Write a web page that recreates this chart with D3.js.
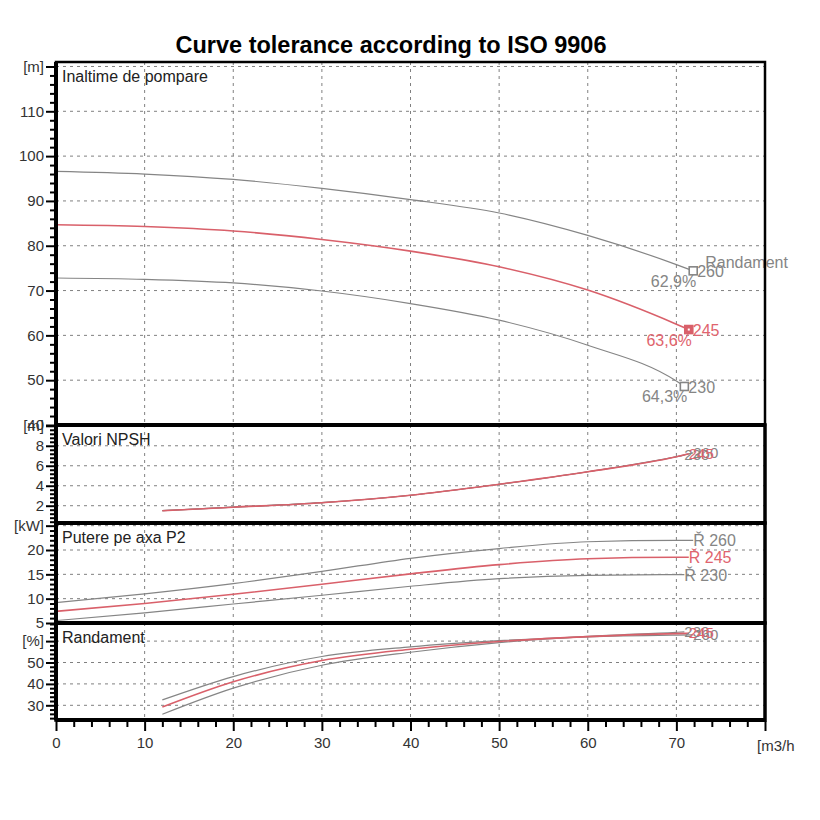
<!DOCTYPE html>
<html>
<head>
<meta charset="utf-8">
<script src="https://cdn.jsdelivr.net/npm/d3@7"></script>
<style>
  body { margin: 0; background: #fff; }
  text { font-family: "Liberation Sans", Arial, sans-serif; }
</style>
</head>
<body>
<svg id="chart" width="820" height="820"></svg>
<script>
// flow points (m3/h) for each impeller diameter
const qFull260 = [0, 10, 20, 30, 40, 50, 60, 70, 71.9];
const qFull245 = [0, 10, 20, 30, 40, 50, 60, 70, 71.4];
const qFull230 = [0, 10, 20, 30, 40, 50, 60, 70, 70.9];
const qPart260 = [12, 20, 30, 40, 50, 60, 70, 71.9];
const qPart245 = [12, 20, 30, 40, 50, 60, 70, 71.4];
const qPart230 = [12, 20, 30, 40, 50, 60, 70, 70.9];

// head [m]
const head260 = [96.6, 96.0, 94.8, 92.8, 90.3, 87.3, 82.3, 75.8, 74.4];
const head245 = [84.7, 84.3, 83.3, 81.4, 78.8, 75.3, 70.1, 62.5, 61.3];
const head230 = [72.8, 72.5, 71.7, 69.9, 67.1, 63.4, 57.8, 49.8, 48.6];

// NPSH [m]
const npsh260 = [1.5, 1.85, 2.3, 3.05, 4.15, 5.4, 6.9, 7.3];
const npsh245 = [1.5, 1.85, 2.3, 3.05, 4.15, 5.4, 6.9, 7.2];
const npsh230 = [1.5, 1.85, 2.3, 3.05, 4.15, 5.4, 6.9, 7.05];

// shaft power P2 [kW]
const power260 = [9.2, 11.0, 13.1, 15.6, 18.3, 20.3, 21.7, 22.0, 22.0];
const power245 = [7.4, 9.0, 10.9, 12.95, 15.1, 17.0, 18.2, 18.5, 18.5];
const power230 = [5.5, 7.1, 8.9, 10.7, 12.55, 14.1, 14.8, 14.95, 14.95];

// efficiency [%]
const eff260 = [32.5, 43.4, 52.8, 57.3, 60.2, 62.0, 62.8, 62.9];
const eff245 = [29.2, 41.0, 50.9, 56.2, 59.8, 62.1, 63.5, 63.6];
const eff230 = [25.8, 38.0, 48.7, 54.8, 59.3, 62.2, 64.1, 64.3];

const dutyLabels = ['62,9%', '63,6%', '64,3%'];
const impellers = ['260', '245', '230'];

// axis ticks / extents
const xTicks = [0, 10, 20, 30, 40, 50, 60, 70, 80];
const headTicks = [40, 50, 60, 70, 80, 90, 100, 110, 120];
const npshTicks = [2, 4, 6, 8, 10];
const powerTicks = [5, 10, 15, 20, 25];
const effTicks = [30, 40, 50, 60];
const headDomain = [40, 121];
const npshDomain = [0.27, 10.08];
const powerDomain = [5, 25.55];
const effDomain = [23.13, 68.46];

const panelTitles = ['Inaltime de pompare', 'Valori NPSH', 'Putere pe axa P2', 'Randament'];
const panelUnits = ['[m]', '[m]', '[kW]', '[%]'];

const GREY = '#858585', RED = '#d9606a', RED_TXT = '#e0646e';

const series = [
    {name: impellers[0], color: GREY, txt: GREY, qf: qFull260, qp: qPart260,
        head: head260, npsh: npsh260, power: power260, eff: eff260, duty: dutyLabels[0]},
    {name: impellers[2], color: GREY, txt: GREY, qf: qFull230, qp: qPart230,
        head: head230, npsh: npsh230, power: power230, eff: eff230, duty: dutyLabels[2]},
    {name: impellers[1], color: RED, txt: RED_TXT, qf: qFull245, qp: qPart245,
        head: head245, npsh: npsh245, power: power245, eff: eff245, duty: dutyLabels[1]}
];

const svg = d3.select('#chart');
const left = 56, right = 765;
const edges = [62, 425, 523, 623, 720];

let x = d3.scaleLinear().domain([0, 80]).range([left, right]);

const panels = [
    {domain: headDomain, ticks: headTicks, minor: 2, key: 'head', q: 'qf'},
    {domain: npshDomain, ticks: npshTicks, minor: 0.4, key: 'npsh', q: 'qp'},
    {domain: powerDomain, ticks: powerTicks, minor: 1, key: 'power', q: 'qf'},
    {domain: effDomain, ticks: effTicks, minor: 2, key: 'eff', q: 'qp'}
];

// title
svg.append('text')
    .attr('x', 391).attr('y', 53)
    .attr('text-anchor', 'middle')
    .style('font-size', '23.5px').style('font-weight', 'bold')
    .text('Curve tolerance according to ISO 9906');

panels.forEach(function (p, i) {
    let top = edges[i], bottom = edges[i + 1];
    let y = d3.scaleLinear().domain(p.domain).range([bottom, top]);
    p.y = y;
    let g = svg.append('g');

    // grid
    let grid = g.append('g')
        .attr('stroke', '#808080').attr('stroke-width', 1)
        .attr('stroke-dasharray', '3,4');
    xTicks.filter(t => t > 0 && t < 80).forEach(function (t) {
        grid.append('line')
            .attr('x1', x(t)).attr('x2', x(t))
            .attr('y1', top).attr('y2', bottom);
    });
    p.ticks.filter(t => y(t) > top + 1 && y(t) < bottom - 1).forEach(function (t) {
        grid.append('line')
            .attr('x1', left).attr('x2', right)
            .attr('y1', y(t)).attr('y2', y(t));
    });

    // curves
    let line = d3.line()
        .x(d => x(d[0]))
        .y(d => y(d[1]))
        .curve(d3.curveMonotoneX);
    series.forEach(function (s) {
        let pts = d3.zip(s[p.q], s[p.key]);
        g.append('path')
            .attr('d', line(pts))
            .attr('fill', 'none')
            .attr('stroke', s.color)
            .attr('stroke-width', s.color === RED ? 1.6 : 1.2);
    });

    // panel title
    g.append('text')
        .attr('x', left + 6).attr('y', top + 19.5)
        .style('font-size', '16px').attr('fill', '#222')
        .text(panelTitles[i]);

    // y axis major + minor ticks
    let topTick = p.ticks[p.ticks.length - 1];
    let yAxis = d3.axisLeft(y)
        .tickValues(p.ticks)
        .tickSize(10).tickPadding(2)
        .tickFormat(d => d === topTick ? panelUnits[i] : d);
    let ag = g.append('g').attr('transform', 'translate(' + left + ',0)').call(yAxis);
    let minors = d3.range(p.domain[0], p.domain[1], p.minor)
        .map(v => Math.round(v / p.minor) * p.minor)
        .filter(v => v >= p.domain[0] && v <= p.domain[1] && !p.ticks.includes(+v.toFixed(2)));
    let mg = g.append('g').attr('transform', 'translate(' + left + ',0)')
        .call(d3.axisLeft(y).tickValues(minors).tickSize(6).tickFormat(''));
    [ag, mg].forEach(function (a) {
        a.select('.domain').remove();
        a.selectAll('line').attr('stroke', '#000').attr('stroke-width', 2);
    });
    ag.selectAll('text')
        .style('font-size', '15px').attr('fill', '#333')
        .style('font-family', '"Liberation Sans", Arial, sans-serif');
});

// end labels per panel
series.forEach(function (s) {
    let n = s.qf.length - 1;
    let mx = x(s.qf[n]);

    // head: duty marker + labels
    let hy = panels[0].y(s.head[n]);
    svg.append('rect')
        .attr('x', mx - 4).attr('y', hy - 4)
        .attr('width', 8).attr('height', 8)
        .attr('fill', s.color === RED ? RED : '#fff')
        .attr('stroke', s.color).attr('stroke-width', 1.6);
    if (s.color === RED) {
        svg.append('rect')
            .attr('x', mx - 1).attr('y', hy - 1)
            .attr('width', 2).attr('height', 2).attr('fill', '#fff');
    }
    svg.append('text')
        .attr('x', mx + 4).attr('y', hy + 6.5)
        .style('font-size', '16px').attr('fill', s.txt)
        .text(s.name);
    svg.append('text')
        .attr('x', mx + 3).attr('y', hy + 16)
        .attr('text-anchor', 'end')
        .style('font-size', '16px').attr('fill', s.txt)
        .text(s.duty);
    if (s.name === impellers[0]) {
        svg.append('text')
            .attr('x', mx + 12).attr('y', hy - 2.5)
            .style('font-size', '16px').attr('fill', s.txt)
            .text('Randament');
    }

    // NPSH
    let np = s.qp.length - 1;
    svg.append('text')
        .attr('x', x(s.qp[np])).attr('y', panels[1].y(s.npsh[np]) + 5)
        .style('font-size', '15px').attr('fill', s.txt)
        .text(s.name);

    // power
    svg.append('text')
        .attr('x', mx).attr('y', panels[2].y(s.power[n]) + 6)
        .style('font-size', '16px').attr('fill', s.txt)
        .text('Ř ' + s.name);

    // efficiency
    svg.append('text')
        .attr('x', x(s.qp[np])).attr('y', panels[3].y(s.eff[np]) + 5)
        .style('font-size', '15px').attr('fill', s.txt)
        .text(s.name);
});

// panel borders and separators
edges.slice(0, 4).forEach(function (t, i) {
    svg.append('rect')
        .attr('x', left).attr('y', t)
        .attr('width', right - left).attr('height', edges[i + 1] - t)
        .attr('fill', 'none')
        .attr('stroke', '#000')
        .attr('stroke-width', i === 0 ? 2.5 : 3.5);
});
svg.append('line')
    .attr('x1', left).attr('x2', left)
    .attr('y1', edges[0]).attr('y2', edges[4])
    .attr('stroke', '#000').attr('stroke-width', 4);
[edges[1], edges[2], edges[3], edges[4]].forEach(function (t) {
    svg.append('line')
        .attr('x1', left).attr('x2', right)
        .attr('y1', t).attr('y2', t)
        .attr('stroke', '#000').attr('stroke-width', 4);
});

// x axis
let xg = svg.append('g').attr('transform', 'translate(0,' + (edges[4] + 1) + ')')
    .call(d3.axisBottom(x).tickValues(xTicks).tickSize(10).tickPadding(6)
        .tickFormat(d => d < 80 ? d : ''));
let xmg = svg.append('g').attr('transform', 'translate(0,' + (edges[4] + 1) + ')')
    .call(d3.axisBottom(x).tickValues(d3.range(0, 80, 2).filter(v => v % 10 !== 0))
        .tickSize(6).tickFormat(''));
[xg, xmg].forEach(function (a) {
    a.select('.domain').remove();
    a.selectAll('line').attr('stroke', '#000').attr('stroke-width', 2);
});
xg.selectAll('text')
    .style('font-size', '15px').attr('fill', '#333')
    .style('font-family', '"Liberation Sans", Arial, sans-serif');
svg.append('text')
    .attr('x', 757).attr('y', 751)
    .style('font-size', '15px').attr('fill', '#333')
    .text('[m3/h');
</script>
</body>
</html>
